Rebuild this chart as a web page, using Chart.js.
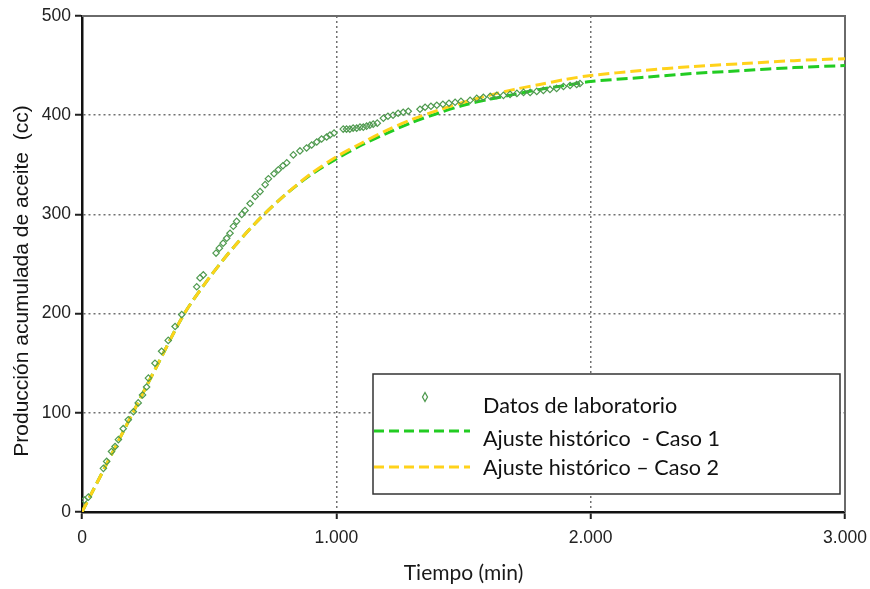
<!DOCTYPE html>
<html>
<head>
<meta charset="utf-8">
<script src="https://cdn.jsdelivr.net/npm/chart.js@4"></script>
<style>
  html, body { margin: 0; padding: 0; background: #fff; }
  #wrap { width: 870px; height: 589px; }
</style>
</head>
<body>
<div id="wrap"><canvas id="chart" width="870" height="589"></canvas></div>
<script>
// Datos de laboratorio (tiempo en min, producción en cc)
const labTime = [9, 25, 84, 97, 116, 130, 143, 162, 182, 202, 221, 238, 254, 261, 287, 313, 339, 366, 392,
  451, 464, 477, 527, 540, 555, 569, 582, 595, 608, 628, 641, 661, 681, 700, 720, 733, 755, 772, 790, 805,
  831, 857, 883, 903, 923, 942, 962, 975, 991, 1027, 1040, 1053, 1066, 1080, 1093, 1106, 1119, 1132, 1145,
  1161, 1185, 1203, 1223, 1243, 1263, 1283, 1329, 1349, 1372, 1395, 1419, 1443, 1467, 1490, 1526, 1552,
  1578, 1605, 1631, 1657, 1683, 1710, 1736, 1762, 1788, 1814, 1840, 1866, 1893, 1919, 1945, 1958];
const labProd = [12, 15, 44, 51, 61, 66, 73, 84, 93, 101, 110, 118, 126, 135, 150, 162, 173, 187, 199,
  227, 236, 239, 261, 266, 271, 276, 281, 288, 293, 300, 304, 311, 318, 323, 330, 336, 341, 345, 349, 352,
  360, 364, 367, 370, 373, 376, 378, 380, 382, 386, 386, 386, 387, 387, 388, 388, 389, 390, 391,
  392, 397, 399, 400, 402, 403, 404, 406, 408, 409, 410, 411, 412, 413, 414, 415, 417,
  418, 419, 420, 420, 421, 422, 423, 423, 424, 425, 426, 427, 429, 430, 431, 432];

// Ajuste histórico
const fitTime = [0, 100, 200, 300, 400, 500, 600, 700, 800, 900, 1000, 1100, 1200, 1300, 1400, 1500,
  1600, 1700, 1800, 1900, 2000, 2200, 2400, 2600, 2800, 3000];
const caso1 = [0, 50, 100, 150, 199, 236, 268, 296, 320, 340, 356, 370, 382, 393, 402, 410,
  416, 421, 426, 430, 434, 438, 442, 445, 448, 450];
const caso2 = [0, 50, 100, 150, 199, 236, 268, 296, 320, 341, 358, 372, 385, 396, 405, 413,
  420, 426, 431, 436, 440, 445, 449, 452, 455, 457];

const xTicks = [0, 1000, 2000, 3000];
const yTicks = [0, 100, 200, 300, 400, 500];

const labColor = "#4f9a4f";
const green = "#22cc22";
const yellow = "#ffd21a";

const toPoints = (xs, ys) => xs.map((x, i) => ({ x: x, y: ys[i] }));
const fmt = (v) => String(v).replace(/\B(?=(\d{3})+(?!\d))/g, ".");

const frameAndLegend = {
  id: "frameAndLegend",
  beforeDatasetsDraw(chart) {
    const { ctx, chartArea: a } = chart;
    ctx.save();
    ctx.strokeStyle = "#6a6a6a";
    ctx.lineWidth = 2;
    ctx.beginPath();
    ctx.moveTo(a.left, a.top);
    ctx.lineTo(a.right, a.top);
    ctx.lineTo(a.right, a.bottom);
    ctx.stroke();
    ctx.restore();
  },
  afterDraw(chart) {
    const { ctx, chartArea: a } = chart;
    ctx.save();
    // y axis title
    ctx.translate(22, (a.top + a.bottom) / 2 + 17);
    ctx.rotate(-Math.PI / 2);
    ctx.fillStyle = "#151515";
    ctx.font = "21px 'Liberation Sans'";
    ctx.textAlign = "center";
    ctx.textBaseline = "middle";
    ctx.fillText("Producción acumulada de aceite  (cc)", 0, 0);
    ctx.restore();

    // legend box
    ctx.save();
    ctx.fillStyle = "#fff";
    ctx.fillRect(373, 374, 467, 120);
    ctx.strokeStyle = "#333";
    ctx.lineWidth = 1.5;
    ctx.strokeRect(373, 374, 467, 120);

    ctx.strokeStyle = labColor;
    ctx.lineWidth = 1.3;
    ctx.beginPath();
    ctx.moveTo(425, 392.5);
    ctx.lineTo(427.5, 397);
    ctx.lineTo(425, 401.5);
    ctx.lineTo(422.5, 397);
    ctx.closePath();
    ctx.stroke();

    ctx.lineWidth = 3;
    ctx.setLineDash([10, 5]);
    ctx.strokeStyle = green;
    ctx.beginPath();
    ctx.moveTo(374, 431);
    ctx.lineTo(470, 431);
    ctx.stroke();
    ctx.strokeStyle = yellow;
    ctx.beginPath();
    ctx.moveTo(374, 467);
    ctx.lineTo(470, 467);
    ctx.stroke();
    ctx.setLineDash([]);

    ctx.fillStyle = "#111";
    ctx.font = "21.6px Lato";
    ctx.textBaseline = "alphabetic";
    ctx.fillText("Datos de laboratorio", 483, 413);
    ctx.fillText("Ajuste histórico  - Caso 1", 483, 446);
    ctx.fillText("Ajuste histórico \u2013 Caso 2", 483, 475);
    ctx.restore();
  }
};

new Chart(document.getElementById("chart"), {
  type: "scatter",
  data: {
    datasets: [
      {
        label: "Datos de laboratorio",
        data: toPoints(labTime, labProd),
        pointStyle: "rectRot",
        pointRadius: 3.2,
        pointBorderWidth: 1.2,
        pointBorderColor: labColor,
        pointBackgroundColor: "rgba(0,0,0,0)",
        showLine: false,
        order: 0,
      },
      {
        label: "Ajuste histórico - Caso 2",
        data: toPoints(fitTime, caso2),
        showLine: true,
        borderColor: yellow,
        borderWidth: 3,
        borderDash: [11, 5],
        pointRadius: 0,
        tension: 0.3,
        order: 1,
      },
      {
        label: "Ajuste histórico - Caso 1",
        data: toPoints(fitTime, caso1),
        showLine: true,
        borderColor: green,
        borderWidth: 3,
        borderDash: [11, 5],
        pointRadius: 0,
        tension: 0.3,
        order: 2,
      },
    ],
  },
  options: {
    responsive: false,
    animation: false,
    devicePixelRatio: 1,
    layout: { padding: { top: 16, right: 25, left: 0, bottom: 0 } },
    plugins: { legend: { display: false }, tooltip: { enabled: false } },
    scales: {
      x: {
        type: "linear",
        min: 0,
        max: 3000,
        afterBuildTicks: (scale) => { scale.ticks = xTicks.map((v) => ({ value: v })); },
        afterFit: (scale) => {
          scale.height = 77;
          scale.paddingLeft = 0;
          scale.paddingRight = 0;
        },
        ticks: {
          callback: (v) => fmt(v),
          font: { family: "Liberation Sans", size: 17.5 },
          color: "#222",
          padding: 9,
          maxRotation: 0,
        },
        grid: {
          color: (c) => (c.tick && (c.tick.value === 0 || c.tick.value === 3000) ? "rgba(0,0,0,0)" : "#707070"),
          lineWidth: 1.5,
          tickColor: "#222",
          tickBorderDash: [],
          tickLength: 7,
          tickWidth: 2,
        },
        border: { color: "#111", width: 2.5, dash: [2, 3] },
        title: {
          display: true,
          text: "Tiempo (min)",
          font: { family: "Lato", size: 21 },
          color: "#1a1a1a",
          padding: { top: 0, bottom: 3 },
        },
      },
      y: {
        min: 0,
        max: 500,
        afterBuildTicks: (scale) => { scale.ticks = yTicks.map((v) => ({ value: v })); },
        afterFit: (scale) => {
          scale.width = 82;
          scale.paddingTop = 0;
          scale.paddingBottom = 0;
        },
        ticks: {
          font: { family: "Liberation Sans", size: 17.5 },
          color: "#222",
          padding: 4,
        },
        grid: {
          color: (c) => (c.tick && (c.tick.value === 0 || c.tick.value === 500) ? "rgba(0,0,0,0)" : "#707070"),
          lineWidth: 1.5,
          tickColor: "#222",
          tickBorderDash: [],
          tickLength: 7,
          tickWidth: 2,
        },
        border: { color: "#111", width: 2.5, dash: [2, 3] },
      },
    },
  },
  plugins: [frameAndLegend],
});
</script>
</body>
</html>
